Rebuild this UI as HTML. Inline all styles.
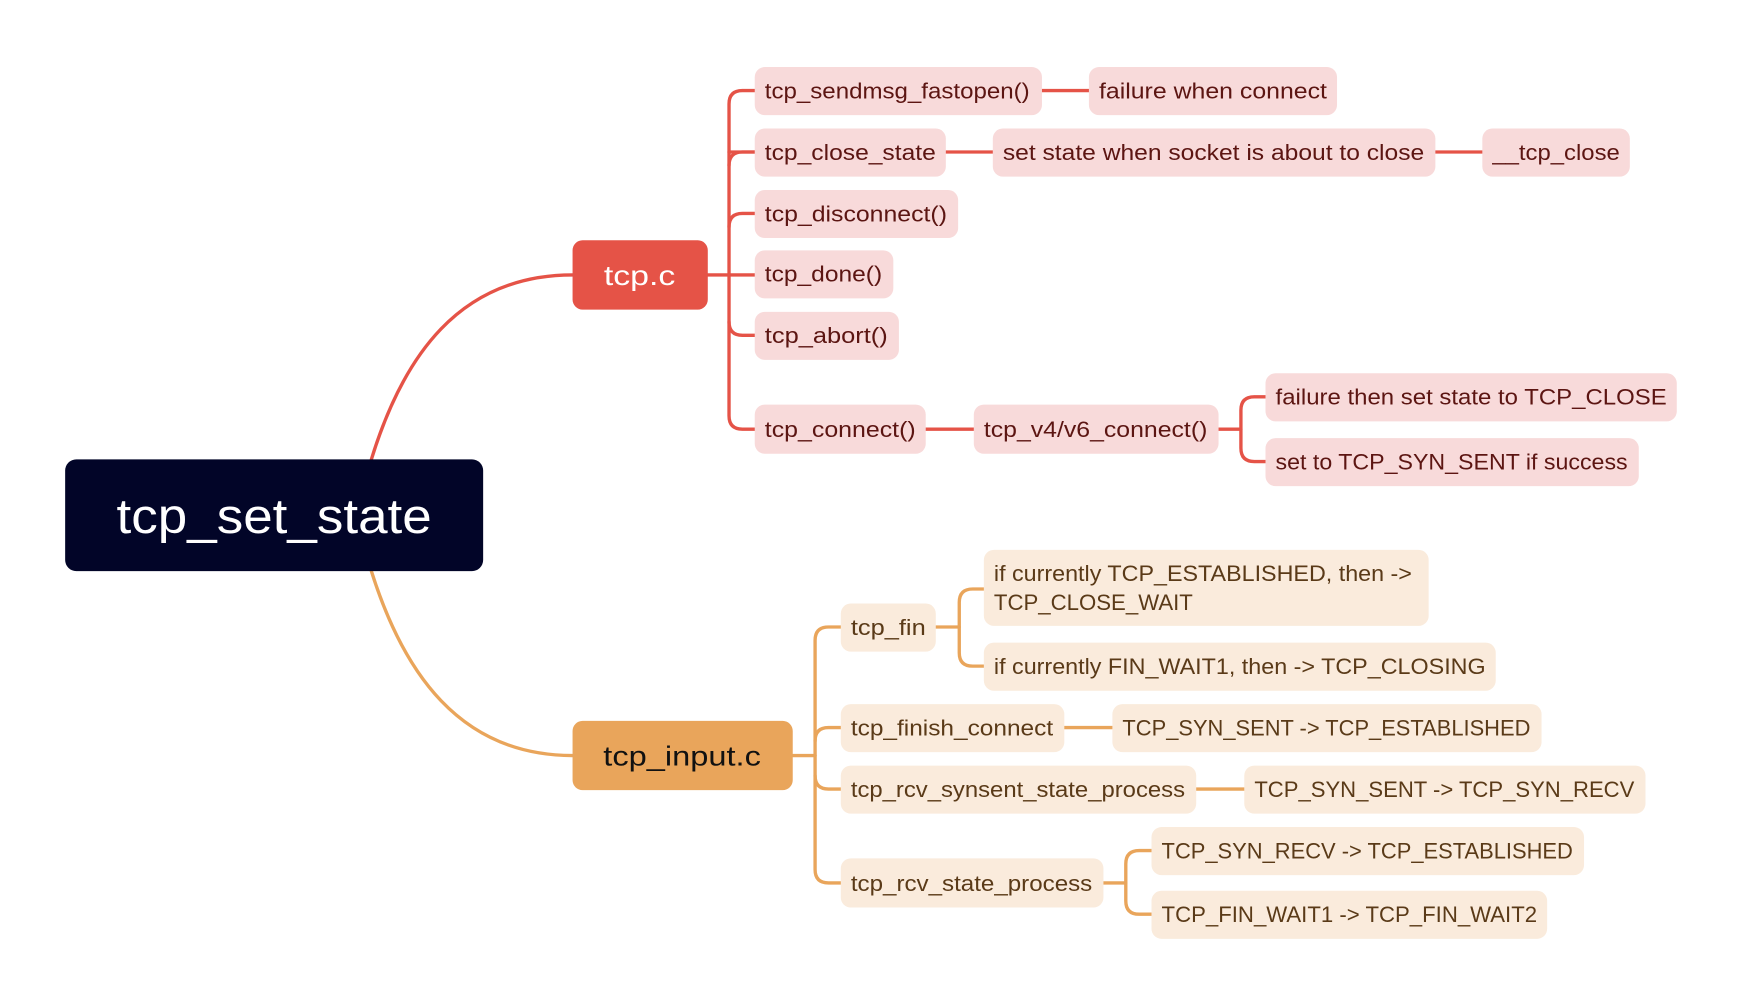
<!DOCTYPE html>
<html><head><meta charset="utf-8"><style>
html,body{margin:0;padding:0;background:#fff;width:1752px;height:988px;overflow:hidden}
svg{display:block}
text{font-family:"Liberation Sans",sans-serif}
.r rect{fill:#f8dada}
.r text{fill:#5c1512;font-size:20px}
.o rect{fill:#faebdc}
.o text{fill:#5a3a18;font-size:20px}
</style></head><body>
<svg width="1752" height="988" viewBox="0 0 1567 884" xmlns="http://www.w3.org/2000/svg">
<!-- connectors -->
<g fill="none" stroke-width="3" stroke-linecap="round">
<path d="M332 411 C 360 320, 410 246, 512 246" stroke="#e55347"/>
<path d="M332 511 C 360 600, 410 676, 512 676" stroke="#e9a55b"/>
<g stroke="#e55347">
<path d="M633 246 H675"/>
<path d="M675 81 H664 Q652 81 652 93 V372 Q652 384 664 384 H675"/>
<path d="M652 136 Q652 136 675 136"/>
<path d="M675 136 H664 Q652 136 652 148"/>
<path d="M675 191 H664 Q652 191 652 203"/>
<path d="M675 300 H664 Q652 300 652 288"/>
<path d="M932 81 H974"/>
<path d="M846 136 H888"/>
<path d="M1284 136 H1326"/>
<path d="M828 384 H871"/>
<path d="M1090 384 H1110"/>
<path d="M1132 355 H1122 Q1110 355 1110 367 V401 Q1110 413 1122 413 H1132"/>
</g>
<g stroke="#e9a55b">
<path d="M709 676 H729"/>
<path d="M752 561 H741 Q729 561 729 573 V778 Q729 790 741 790 H752"/>
<path d="M752 651 H741 Q729 651 729 663"/>
<path d="M752 706 H741 Q729 706 729 694"/>
<path d="M837 561 H858"/>
<path d="M880 527 H870 Q858 527 858 539 V584 Q858 596 870 596 H880"/>
<path d="M952 651 H995"/>
<path d="M1070 706 H1113"/>
<path d="M987 790 H1007"/>
<path d="M1030 761 H1019 Q1007 761 1007 773 V806 Q1007 818 1019 818 H1030"/>
</g>
</g>
<!-- root -->
<rect x="58" y="411" width="374" height="100" rx="10" fill="#020528"/>
<text x="245" y="477" text-anchor="middle" fill="#fff" font-size="44" textLength="282" lengthAdjust="spacingAndGlyphs">tcp_set_state</text>
<rect x="512" y="215" width="121" height="62" rx="9" fill="#e55347"/>
<text x="572" y="255" text-anchor="middle" fill="#fff" font-size="25" textLength="64" lengthAdjust="spacingAndGlyphs">tcp.c</text>
<rect x="512" y="645" width="197" height="62" rx="9" fill="#e9a55b"/>
<text x="610" y="685" text-anchor="middle" fill="#111" font-size="25" textLength="141" lengthAdjust="spacingAndGlyphs">tcp_input.c</text>
<!-- red nodes -->
<g class="r">
<rect x="675" y="60" width="257" height="43" rx="9"/><text x="684" y="88" textLength="237" lengthAdjust="spacingAndGlyphs">tcp_sendmsg_fastopen()</text>
<rect x="974" y="60" width="222" height="43" rx="9"/><text x="983" y="88" textLength="204" lengthAdjust="spacingAndGlyphs">failure when connect</text>
<rect x="675" y="115" width="171" height="43" rx="9"/><text x="684" y="143" textLength="153" lengthAdjust="spacingAndGlyphs">tcp_close_state</text>
<rect x="888" y="115" width="396" height="43" rx="9"/><text x="897" y="143" textLength="377" lengthAdjust="spacingAndGlyphs">set state when socket is about to close</text>
<rect x="1326" y="115" width="132" height="43" rx="9"/><text x="1335" y="143" textLength="114" lengthAdjust="spacingAndGlyphs">__tcp_close</text>
<rect x="675" y="170" width="182" height="43" rx="9"/><text x="684" y="198" textLength="163" lengthAdjust="spacingAndGlyphs">tcp_disconnect()</text>
<rect x="675" y="224" width="124" height="43" rx="9"/><text x="684" y="252" textLength="105" lengthAdjust="spacingAndGlyphs">tcp_done()</text>
<rect x="675" y="279" width="129" height="43" rx="9"/><text x="684" y="307" textLength="110" lengthAdjust="spacingAndGlyphs">tcp_abort()</text>
<rect x="675" y="362" width="153" height="44" rx="9"/><text x="684" y="391" textLength="135" lengthAdjust="spacingAndGlyphs">tcp_connect()</text>
<rect x="871" y="362" width="219" height="44" rx="9"/><text x="880" y="391" textLength="200" lengthAdjust="spacingAndGlyphs">tcp_v4/v6_connect()</text>
<rect x="1132" y="334" width="368" height="43" rx="9"/><text x="1141" y="362" textLength="350" lengthAdjust="spacingAndGlyphs">failure then set state to TCP_CLOSE</text>
<rect x="1132" y="392" width="334" height="43" rx="9"/><text x="1141" y="420" textLength="315" lengthAdjust="spacingAndGlyphs">set to TCP_SYN_SENT if success</text>
</g>
<!-- orange nodes -->
<g class="o">
<rect x="752" y="540" width="85" height="43" rx="9"/><text x="761" y="568" textLength="67" lengthAdjust="spacingAndGlyphs">tcp_fin</text>
<rect x="880" y="492" width="398" height="68" rx="9"/>
<text x="889" y="520" textLength="374" lengthAdjust="spacingAndGlyphs">if currently TCP_ESTABLISHED, then -&gt;</text>
<text x="889" y="546" textLength="178" lengthAdjust="spacingAndGlyphs">TCP_CLOSE_WAIT</text>
<rect x="880" y="575" width="458" height="43" rx="9"/><text x="889" y="603" textLength="440" lengthAdjust="spacingAndGlyphs">if currently FIN_WAIT1, then -&gt; TCP_CLOSING</text>
<rect x="752" y="630" width="200" height="43" rx="9"/><text x="761" y="658" textLength="181" lengthAdjust="spacingAndGlyphs">tcp_finish_connect</text>
<rect x="995" y="630" width="384" height="43" rx="9"/><text x="1004" y="658" textLength="365" lengthAdjust="spacingAndGlyphs">TCP_SYN_SENT -&gt; TCP_ESTABLISHED</text>
<rect x="752" y="685" width="318" height="43" rx="9"/><text x="761" y="713" textLength="299" lengthAdjust="spacingAndGlyphs">tcp_rcv_synsent_state_process</text>
<rect x="1113" y="685" width="359" height="43" rx="9"/><text x="1122" y="713" textLength="340" lengthAdjust="spacingAndGlyphs">TCP_SYN_SENT -&gt; TCP_SYN_RECV</text>
<rect x="752" y="768" width="235" height="44" rx="9"/><text x="761" y="797" textLength="216" lengthAdjust="spacingAndGlyphs">tcp_rcv_state_process</text>
<rect x="1030" y="740" width="387" height="43" rx="9"/><text x="1039" y="768" textLength="368" lengthAdjust="spacingAndGlyphs">TCP_SYN_RECV -&gt; TCP_ESTABLISHED</text>
<rect x="1030" y="797" width="354" height="43" rx="9"/><text x="1039" y="825" textLength="336" lengthAdjust="spacingAndGlyphs">TCP_FIN_WAIT1 -&gt; TCP_FIN_WAIT2</text>
</g>
</svg>
</body></html>
